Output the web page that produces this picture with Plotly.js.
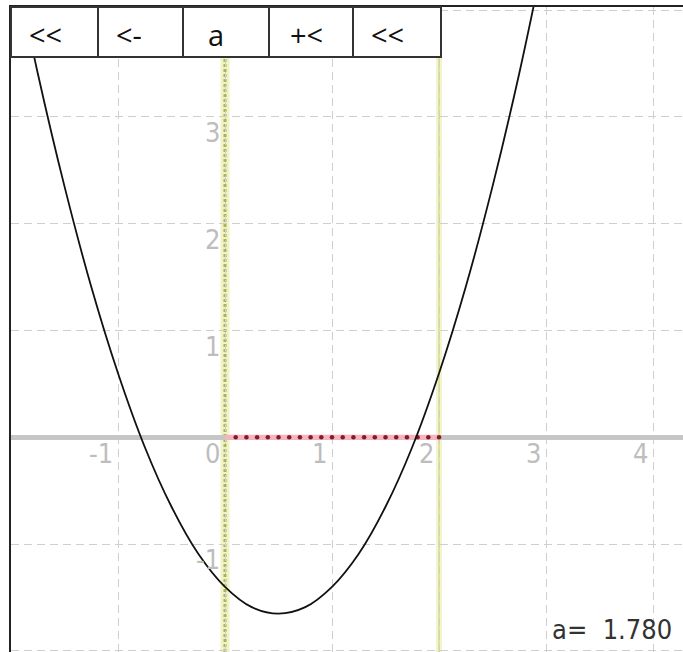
<!DOCTYPE html>
<html>
<head>
<meta charset="utf-8">
<script src="https://cdn.plot.ly/plotly-3.0.1.min.js"></script>
<style>
  html, body { margin: 0; padding: 0; background: #fff; }
  #chart { width: 683px; height: 652px; }
</style>
</head>
<body>
<div id="chart"></div>
<script>
// ---- data ----
const curveX = [-2, -1.75, -1.5, -1.25, -1, -0.75, -0.5, -0.25, 0, 0.25, 0.5, 0.75, 1, 1.25, 1.5, 1.75, 2, 2.25, 2.5, 2.75, 3];
const curveY = [4.6, 3.41, 2.35, 1.41, 0.6, -0.09, -0.65, -1.09, -1.4, -1.59, -1.65, -1.59, -1.4, -1.09, -0.65, -0.09, 0.6, 1.41, 2.35, 3.41, 4.6];
const segX = [0, 2];
const segY = [0, 0];
const dotX = [0.1, 0.2, 0.3, 0.4, 0.5, 0.6, 0.7, 0.8, 0.9, 1.0, 1.1, 1.2, 1.3, 1.4, 1.5, 1.6, 1.7, 1.8, 1.9, 2.0];
const dotY = [0, 0, 0, 0, 0, 0, 0, 0, 0, 0, 0, 0, 0, 0, 0, 0, 0, 0, 0, 0];
const greenLineX = [0];
const yellowLineX = [2];
const xTickVals = [-1, 0, 1, 2, 3, 4];
const xTickText = ['-1', '0', '1', '2', '3', '4'];
const yTickVals = [-1, 1, 2, 3];
const yTickText = ['-1', '1', '2', '3'];
const buttonLabels = ['<<', '<-', 'a', '+<', '<<'];
const aValue = 1.780;

// ---- layout helpers (pixel -> paper) ----
const L = 11, T = 7, W = 672, H = 645;
const px = v => (v - L) / W;
const py = v => 1 - (v - T) / H;
const btnEdges = [11, 98, 183, 269, 353, 441];
const btnPad = [16, 16, 23, 19, 16];

const tickFont = { family: 'Liberation Sans Narrow, DejaVu Sans Condensed, sans-serif', size: 27, color: '#bdbdbd' };

const traces = [
  { x: segX, y: segY, mode: 'lines', line: { color: '#f5b4c0', width: 5 }, hoverinfo: 'skip' },
  { x: dotX, y: dotY, mode: 'markers', marker: { color: '#8a1828', size: 4.5, symbol: 'circle' }, hoverinfo: 'skip' },
  { x: curveX, y: curveY, mode: 'lines', line: { color: '#111', width: 1.8, shape: 'spline', smoothing: 1 }, hoverinfo: 'skip' }
];

const shapes = [];
greenLineX.forEach(v => {
  shapes.push({ type: 'line', xref: 'x', yref: 'paper', x0: v, x1: v, y0: 0, y1: 1, layer: 'between', line: { color: '#f2f3c4', width: 9 } });
  shapes.push({ type: 'line', xref: 'x', yref: 'paper', x0: v, x1: v, y0: 0, y1: 1, layer: 'between', line: { color: '#a6b45a', width: 3, dash: '3px,2px' } });
});
yellowLineX.forEach(v => {
  shapes.push({ type: 'line', xref: 'x', yref: 'paper', x0: v, x1: v, y0: 0, y1: 1, layer: 'between', line: { color: '#f4f4cc', width: 6 } });
  shapes.push({ type: 'line', xref: 'x', yref: 'paper', x0: v, x1: v, y0: 0, y1: 1, layer: 'between', line: { color: '#dfe29c', width: 2 } });
});
for (let i = 0; i < buttonLabels.length; i++) {
  shapes.push({ type: 'rect', xref: 'paper', yref: 'paper', x0: px(btnEdges[i]), x1: px(btnEdges[i + 1]), y0: py(57), y1: py(7), layer: 'above', fillcolor: '#ffffff', line: { color: '#333', width: 2 } });
}

const annotations = [];
xTickVals.forEach((v, i) => {
  annotations.push({ x: v, y: 0, xref: 'x', yref: 'y', text: xTickText[i], showarrow: false, xanchor: 'right', yanchor: 'top', xshift: -3, yshift: 1, font: tickFont });
});
yTickVals.forEach((v, i) => {
  annotations.push({ x: 0, y: v, xref: 'x', yref: 'y', text: yTickText[i], showarrow: false, xanchor: 'right', yanchor: 'top', xshift: -3, yshift: 2, font: tickFont });
});
buttonLabels.forEach((t, i) => {
  annotations.push({ x: px(btnEdges[i] + btnPad[i]), y: py(35), xref: 'paper', yref: 'paper', text: t, showarrow: false, xanchor: 'left', yanchor: 'middle', font: { family: 'Open Sans, Noto Sans, sans-serif', size: 29, color: '#111' } });
});
annotations.push({ x: 1, y: 0, xref: 'paper', yref: 'paper', text: 'a=\u00a0\u00a0' + aValue.toFixed(3), showarrow: false, xanchor: 'right', yanchor: 'bottom', xshift: -9, yshift: 5, font: { family: 'Liberation Sans Narrow, DejaVu Sans Condensed, sans-serif', size: 27, color: '#333' } });

const layout = {
  width: 683, height: 652,
  margin: { l: L, r: 0, t: T, b: 0, pad: 0 },
  paper_bgcolor: '#fff', plot_bgcolor: '#fff',
  showlegend: false,
  xaxis: {
    range: [-2, 4.28], side: 'top', showline: true, linecolor: '#222', linewidth: 2,
    showticklabels: false, ticks: '', tick0: 0, dtick: 1,
    showgrid: true, gridcolor: '#cfcfcf', gridwidth: 1, griddash: '8px,5px',
    zeroline: false, fixedrange: true
  },
  yaxis: {
    range: [-2.01, 4.03], side: 'left', showline: true, linecolor: '#222', linewidth: 2,
    showticklabels: false, ticks: '', tick0: 0, dtick: 1,
    showgrid: true, gridcolor: '#cfcfcf', gridwidth: 1, griddash: '8px,5px',
    zeroline: true, zerolinecolor: '#c6c6c6', zerolinewidth: 5, fixedrange: true
  },
  shapes: shapes,
  annotations: annotations
};

Plotly.newPlot('chart', traces, layout, { staticPlot: true, displayModeBar: false });
</script>
</body>
</html>
